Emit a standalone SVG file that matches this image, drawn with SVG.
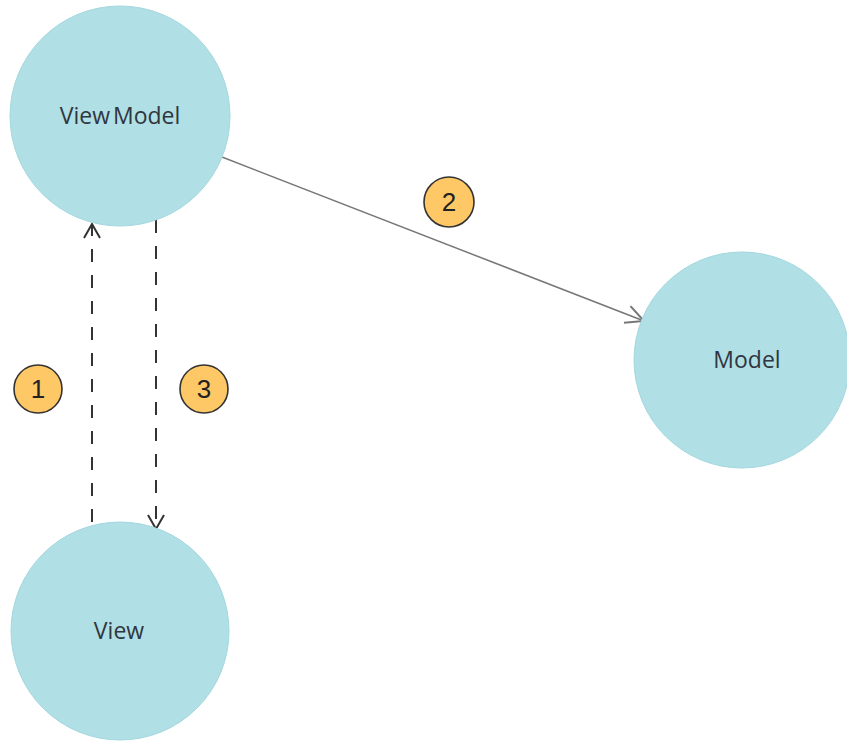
<svg xmlns="http://www.w3.org/2000/svg" width="847" height="742" viewBox="0 0 847 742">
  <style>
    .node { fill: #b0dfe5; stroke: #a3d8df; stroke-width: 1; }
    .label { font-family: "Open Sans", "Noto Sans", "DejaVu Sans", sans-serif; font-size: 23px; fill: #2f3640; text-anchor: middle; }
    .badge { fill: #fdc865; stroke: #333; stroke-width: 1.6; }
    .num { font-family: "Liberation Sans", Arial, sans-serif; font-size: 26px; fill: #222; text-anchor: middle; }
    .dash { fill: none; stroke: #333; stroke-width: 2; stroke-dasharray: 13 13; }
    .solid { fill: none; stroke: #777; stroke-width: 1.5; }
  </style>
  <defs>
    <marker id="open-dark" viewBox="0 0 20 20" refX="18" refY="10" markerWidth="20" markerHeight="20" markerUnits="userSpaceOnUse" orient="auto">
      <path d="M4,2 L18,10 L4,18" fill="none" stroke="#333" stroke-width="2"/>
    </marker>
    <marker id="open-grey" viewBox="0 0 24 24" refX="22" refY="12" markerWidth="24" markerHeight="24" markerUnits="userSpaceOnUse" orient="auto">
      <path d="M4,3 L22,12 L4,21" fill="none" stroke="#777" stroke-width="2"/>
    </marker>
  </defs>

  <g id="connectors">
    <line class="dash" x1="92" y1="522" x2="92" y2="224" marker-end="url(#open-dark)"/>
    <line class="dash" x1="156" y1="220" x2="156" y2="529" marker-end="url(#open-dark)"/>
    <line class="solid" x1="222" y1="157" x2="644" y2="321" marker-end="url(#open-grey)"/>
  </g>

  <g id="viewmodel">
    <circle class="node" cx="120" cy="116" r="110"/>
    <text class="label" x="120" y="124" word-spacing="-3">View Model</text>
  </g>
  <g id="model">
    <circle class="node" cx="742" cy="360" r="108"/>
    <text class="label" x="747" y="368">Model</text>
  </g>
  <g id="view">
    <circle class="node" cx="120" cy="631" r="109"/>
    <text class="label" x="119" y="639">View</text>
  </g>

  <g id="badge-1">
    <circle class="badge" cx="38" cy="389" r="24"/>
    <text class="num" x="38" y="398">1</text>
  </g>
  <g id="badge-2">
    <circle class="badge" cx="449" cy="202" r="25"/>
    <text class="num" x="449" y="211">2</text>
  </g>
  <g id="badge-3">
    <circle class="badge" cx="204" cy="389" r="24"/>
    <text class="num" x="204" y="398">3</text>
  </g>
</svg>
